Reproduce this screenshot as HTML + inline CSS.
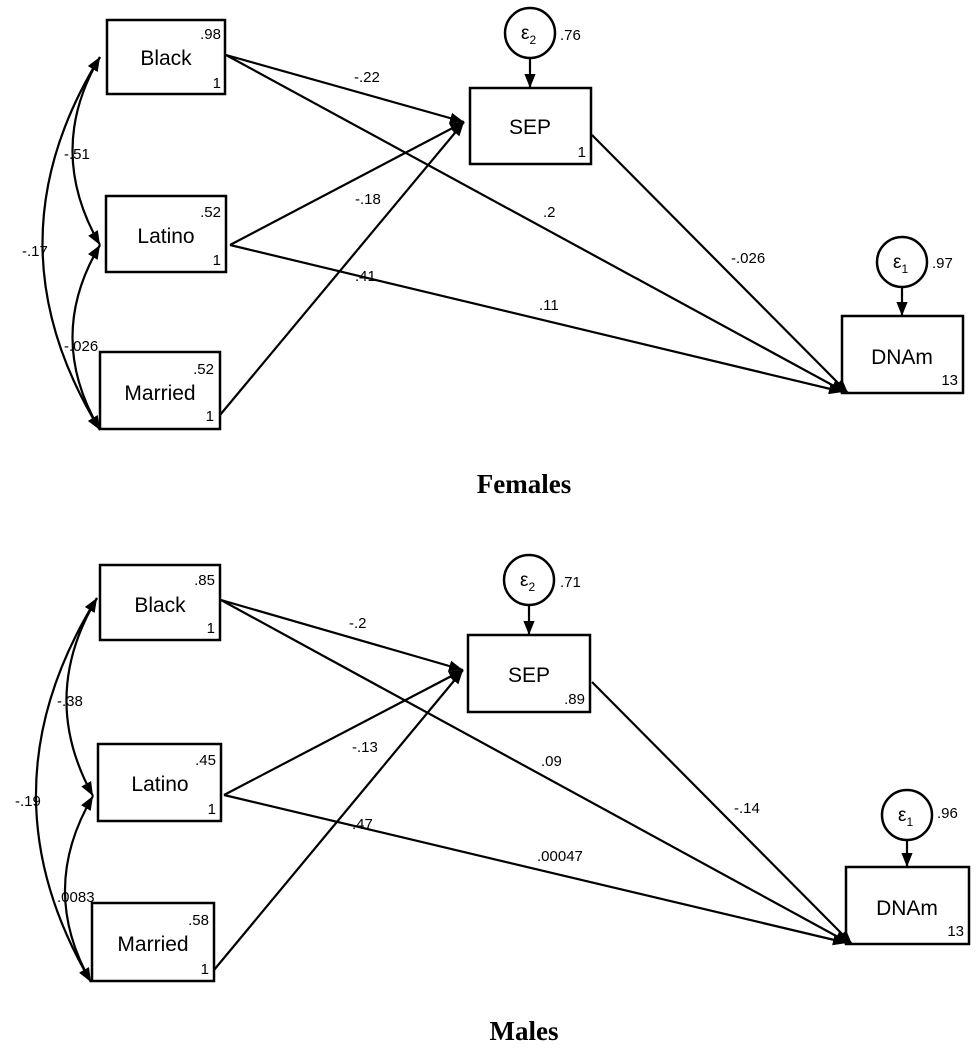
<!DOCTYPE html>
<html><head><meta charset="utf-8"><style>
body{margin:0;background:#fff}
svg text{font-family:"Liberation Sans",Arial,sans-serif;fill:#000}
.t{font-family:"Liberation Serif",serif;font-weight:bold;font-size:27px}
</style></head><body>
<svg width="979" height="1050" viewBox="0 0 979 1050" xmlns="http://www.w3.org/2000/svg">
<defs>
<marker id="a" viewBox="0 0 10 10" refX="10" refY="5" markerWidth="14" markerHeight="14" markerUnits="userSpaceOnUse" orient="auto-start-reverse"><path d="M0,1 L10,5 L0,9 z" fill="#000"/></marker>
</defs>
<g stroke="#000" stroke-width="2.5" fill="none">
<!-- Females -->
<rect x="107" y="20" width="118" height="74"/>
<rect x="106" y="196" width="120" height="76"/>
<rect x="100" y="352" width="120" height="77"/>
<rect x="470" y="88" width="121" height="76"/>
<rect x="842" y="316" width="121" height="77"/>
<circle cx="530" cy="33" r="25"/>
<circle cx="902" cy="262" r="25"/>
</g>
<g stroke="#000" stroke-width="2.2" fill="none" marker-end="url(#a)">
<line x1="530" y1="58" x2="530" y2="88"/>
<line x1="902" y1="287" x2="902" y2="316"/>
<line x1="226" y1="55" x2="464" y2="122"/>
<line x1="226" y1="55" x2="845" y2="392"/>
<line x1="230" y1="245" x2="464" y2="122"/>
<line x1="230" y1="245" x2="843" y2="392"/>
<line x1="220" y1="415" x2="464" y2="122"/>
<line x1="592" y1="135" x2="848" y2="393"/>
<path d="M100,57 Q45,150 100,245" marker-start="url(#a)"/>
<path d="M100,245 Q45,337 100,430" marker-start="url(#a)"/>
<path d="M100,57 Q-15,243 100,430" marker-start="url(#a)"/>
</g>
<g font-size="21">
<text x="166" y="65" text-anchor="middle">Black</text>
<text x="166" y="243" text-anchor="middle">Latino</text>
<text x="160" y="400" text-anchor="middle">Married</text>
<text x="530" y="134" text-anchor="middle">SEP</text>
<text x="902" y="364" text-anchor="middle">DNAm</text>
</g>
<g font-size="15">
<text x="221" y="39" text-anchor="end">.98</text><text x="221" y="88" text-anchor="end">1</text>
<text x="221" y="217" text-anchor="end">.52</text><text x="221" y="265" text-anchor="end">1</text>
<text x="214" y="374" text-anchor="end">.52</text><text x="214" y="421" text-anchor="end">1</text>
<text x="586" y="157" text-anchor="end">1</text>
<text x="958" y="385" text-anchor="end">13</text>
<text x="560" y="40">.76</text>
<text x="932" y="268">.97</text>
<text x="354" y="82">-.22</text>
<text x="355" y="204">-.18</text>
<text x="355" y="281">.41</text>
<text x="543" y="217">.2</text>
<text x="731" y="263">-.026</text>
<text x="539" y="310">.11</text>
<text x="64" y="159">-.51</text>
<text x="22" y="256">-.17</text>
<text x="64" y="351">-.026</text>
<text x="521" y="39" font-size="19">ε<tspan font-size="12" dy="5">2</tspan></text>
<text x="893" y="268" font-size="19">ε<tspan font-size="12" dy="5">1</tspan></text>
</g>
<text class="t" x="524" y="493" text-anchor="middle">Females</text>

<!-- Males -->
<g stroke="#000" stroke-width="2.5" fill="none">
<rect x="100" y="565" width="120" height="75"/>
<rect x="98" y="744" width="123" height="77"/>
<rect x="92" y="903" width="122" height="78"/>
<rect x="468" y="635" width="122" height="77"/>
<rect x="846" y="867" width="123" height="77"/>
<circle cx="529" cy="580" r="25"/>
<circle cx="907" cy="815" r="25"/>
</g>
<g stroke="#000" stroke-width="2.2" fill="none" marker-end="url(#a)">
<line x1="529" y1="605" x2="529" y2="635"/>
<line x1="907" y1="840" x2="907" y2="867"/>
<line x1="221" y1="600" x2="463" y2="670"/>
<line x1="221" y1="600" x2="849" y2="943"/>
<line x1="224" y1="795" x2="463" y2="670"/>
<line x1="224" y1="795" x2="847" y2="943"/>
<line x1="214" y1="970" x2="463" y2="670"/>
<line x1="592" y1="682" x2="852" y2="944"/>
<path d="M97,598 Q38,697 93,796" marker-start="url(#a)"/>
<path d="M93,796 Q38,889 91,982" marker-start="url(#a)"/>
<path d="M97,598 Q-22,790 91,982" marker-start="url(#a)"/>
</g>
<g font-size="21">
<text x="160" y="612" text-anchor="middle">Black</text>
<text x="160" y="791" text-anchor="middle">Latino</text>
<text x="153" y="951" text-anchor="middle">Married</text>
<text x="529" y="682" text-anchor="middle">SEP</text>
<text x="907" y="915" text-anchor="middle">DNAm</text>
</g>
<g font-size="15">
<text x="215" y="585" text-anchor="end">.85</text><text x="215" y="633" text-anchor="end">1</text>
<text x="216" y="765" text-anchor="end">.45</text><text x="216" y="814" text-anchor="end">1</text>
<text x="209" y="925" text-anchor="end">.58</text><text x="209" y="974" text-anchor="end">1</text>
<text x="585" y="704" text-anchor="end">.89</text>
<text x="964" y="936" text-anchor="end">13</text>
<text x="560" y="587">.71</text>
<text x="937" y="818">.96</text>
<text x="349" y="628">-.2</text>
<text x="352" y="752">-.13</text>
<text x="352" y="829">.47</text>
<text x="541" y="766">.09</text>
<text x="734" y="813">-.14</text>
<text x="537" y="861">.00047</text>
<text x="57" y="706">-.38</text>
<text x="15" y="806">-.19</text>
<text x="57" y="902">.0083</text>
<text x="520" y="586" font-size="19">ε<tspan font-size="12" dy="5">2</tspan></text>
<text x="898" y="821" font-size="19">ε<tspan font-size="12" dy="5">1</tspan></text>
</g>
<text class="t" x="524" y="1040" text-anchor="middle">Males</text>
</svg>
</body></html>
